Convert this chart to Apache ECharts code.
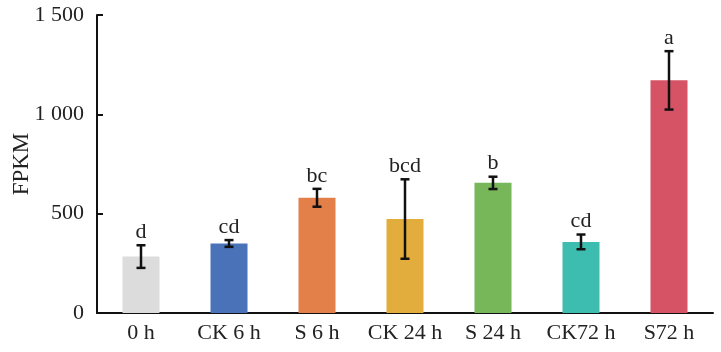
<!DOCTYPE html>
<html>
<head>
<meta charset="utf-8">
<script src="https://cdn.jsdelivr.net/npm/echarts@6/dist/echarts.min.js"></script>
<style>
  html, body { margin: 0; padding: 0; background: #fff; }
  #main { width: 721px; height: 352px; }
</style>
</head>
<body>
<div id="main"></div>
<script>
// 数据
const categories = ['0 h', 'CK 6 h', 'S 6 h', 'CK 24 h', 'S 24 h', 'CK72 h', 'S72 h']
const fpkmValues = [284, 350, 580, 473, 655, 358, 1171]
const errValues = [57, 17, 45, 200, 31, 37, 147]
const sigLetters = ['d', 'cd', 'bc', 'bcd', 'b', 'cd', 'a']
const barColors = ['#dddcdc', '#4a72b8', '#e37f48', '#e3ad3d', '#77b659', '#3dbdb0', '#d65366']

const chart = echarts.init(document.getElementById('main'))
const font = 'Liberation Serif'

const option = {
  animation: false,
  grid: { left: 97, right: 8, top: 15, bottom: 39, outerBoundsMode: 'none', containLabel: false },
  xAxis: {
    type: 'category',
    data: categories,
    axisLine: { lineStyle: { color: '#111', width: 2 } },
    axisTick: { show: false },
    axisLabel: { color: '#222', fontFamily: font, fontSize: 22, margin: 9, interval: 0, hideOverlap: false }
  },
  yAxis: {
    type: 'value',
    min: 0,
    max: 1500,
    interval: 500,
    name: 'FPKM',
    nameLocation: 'middle',
    nameGap: 64,
    nameMoveOverlap: false,
    nameTextStyle: { color: '#222', fontFamily: font, fontSize: 23 },
    axisLine: { show: true, lineStyle: { color: '#111', width: 2 } },
    axisTick: { show: true, inside: true, length: 6, lineStyle: { color: '#111', width: 2 } },
    splitLine: { show: false },
    axisLabel: {
      color: '#222', fontFamily: font, fontSize: 22, margin: 13,
      formatter: v => String(v).replace(/\B(?=(\d{3})+(?!\d))/g, ' ')
    }
  },
  series: [
    {
      type: 'bar',
      barWidth: 37,
      data: fpkmValues.map((v, i) => ({ value: v, itemStyle: { color: barColors[i] } }))
    },
    {
      // 误差线 + 显著性字母
      type: 'custom',
      data: fpkmValues.map((v, i) => [i, v, errValues[i]]),
      renderItem: (params, api) => {
        const x = api.value(0)
        const hi = api.coord([x, api.value(1) + api.value(2)])
        const lo = api.coord([x, api.value(1) - api.value(2)])
        const cap = 4.5
        const style = { stroke: '#111', lineWidth: 2.5 }
        return {
          type: 'group',
          children: [
            { type: 'line', shape: { x1: hi[0], y1: hi[1], x2: lo[0], y2: lo[1] }, style },
            { type: 'line', shape: { x1: hi[0] - cap, y1: hi[1], x2: hi[0] + cap, y2: hi[1] }, style },
            { type: 'line', shape: { x1: lo[0] - cap, y1: lo[1], x2: lo[0] + cap, y2: lo[1] }, style },
            {
              type: 'text',
              style: {
                text: sigLetters[params.dataIndex],
                x: hi[0],
                y: hi[1] - 2,
                align: 'center',
                verticalAlign: 'bottom',
                fill: '#222',
                font: '22px "Liberation Serif"'
              }
            }
          ]
        }
      },
      z: 5
    }
  ]
}
chart.setOption(option)
</script>
</body>
</html>
